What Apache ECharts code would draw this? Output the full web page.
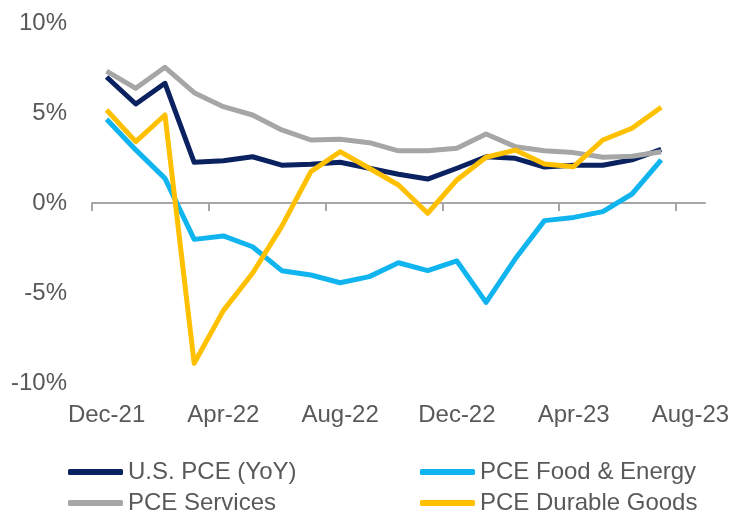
<!DOCTYPE html>
<html>
<head>
<meta charset="utf-8">
<script src="https://cdn.jsdelivr.net/npm/echarts@6/dist/echarts.min.js"></script>
<style>html,body{margin:0;padding:0;background:#fff}#c{width:745px;height:515px}</style>
</head>
<body>
<div id="c"></div>
<script>
var categories = ['Dec-21','Jan-22','Feb-22','Mar-22','Apr-22','May-22','Jun-22','Jul-22','Aug-22','Sep-22','Oct-22','Nov-22','Dec-22','Jan-23','Feb-23','Mar-23','Apr-23','May-23','Jun-23','Jul-23','Aug-23'];
var tickBoundaries = [0, 4, 8, 12, 16, 20];
var pceYoY      = [7.0, 5.5, 6.65, 2.26, 2.35, 2.57, 2.1, 2.15, 2.26, 1.93, 1.6, 1.33, 1.93, 2.57, 2.48, 2.0, 2.1, 2.1, 2.4, 2.98];
var foodEnergy  = [4.65, 2.95, 1.37, -2.02, -1.83, -2.43, -3.76, -4.0, -4.43, -4.09, -3.32, -3.76, -3.22, -5.52, -3.1, -0.98, -0.8, -0.48, 0.5, 2.39];
var services    = [7.33, 6.37, 7.54, 6.13, 5.35, 4.89, 4.06, 3.5, 3.54, 3.35, 2.9, 2.9, 3.04, 3.83, 3.13, 2.9, 2.8, 2.54, 2.6, 2.85];
var durables    = [5.17, 3.41, 4.89, -8.9, -5.98, -3.9, -1.3, 1.74, 2.85, 1.93, 1.0, -0.57, 1.28, 2.54, 2.94, 2.17, 2.02, 3.5, 4.15, 5.32];
var seriesNames = ['U.S. PCE (YoY)', 'PCE Food & Energy', 'PCE Services', 'PCE Durable Goods'];
var colors = ['#0b2260', '#10b4ee', '#a6a6a6', '#ffc000'];

var chart = echarts.init(document.getElementById('c'), null, {renderer: 'canvas'});
var txt = '#595959';
var font = 'Liberation Sans, Arial, sans-serif';
function legendAt(i, left, top) {
  return {
    data: [seriesNames[i]], left: left, top: top, padding: 0,
    icon: 'roundRect', itemWidth: 55, itemHeight: 6, itemGap: 5,
    textStyle: {color: txt, fontSize: 24, fontFamily: font}
  };
}
function line(i, data) {
  return {
    name: seriesNames[i], type: 'line', data: data, xAxisIndex: 1,
    symbol: 'none', showSymbol: false,
    lineStyle: {width: 5, color: colors[i], join: 'round'},
    itemStyle: {color: colors[i]}, animation: false
  };
}
chart.setOption({
  animation: false,
  grid: {left: 92, right: 40, top: 23, bottom: 132, containLabel: false},
  legend: [legendAt(0, 68, 460), legendAt(1, 420, 460), legendAt(2, 68, 491), legendAt(3, 420, 491)],
  xAxis: [{
    type: 'value', min: 0, max: categories.length, position: 'bottom',
    axisLine: {onZero: true, lineStyle: {color: '#a6a6a6', width: 2}},
    axisTick: {show: true, customValues: tickBoundaries, length: 8, lineStyle: {color: '#a6a6a6', width: 2}},
    axisLabel: {show: false}, splitLine: {show: false}
  }, {
    type: 'category', data: categories, boundaryGap: true, position: 'bottom',
    axisLine: {show: false, onZero: false}, axisTick: {show: false},
    axisLabel: {show: true, interval: 3, margin: 20, color: txt, fontSize: 24, fontFamily: font},
    splitLine: {show: false}
  }],
  yAxis: {
    type: 'value', min: -10, max: 10, interval: 5,
    axisLine: {show: false}, axisTick: {show: false}, splitLine: {show: false},
    axisLabel: {formatter: '{value}%', margin: 25, color: txt, fontSize: 24, fontFamily: font}
  },
  series: [line(0, pceYoY), line(1, foodEnergy), line(2, services), line(3, durables)]
});
</script>
</body>
</html>
